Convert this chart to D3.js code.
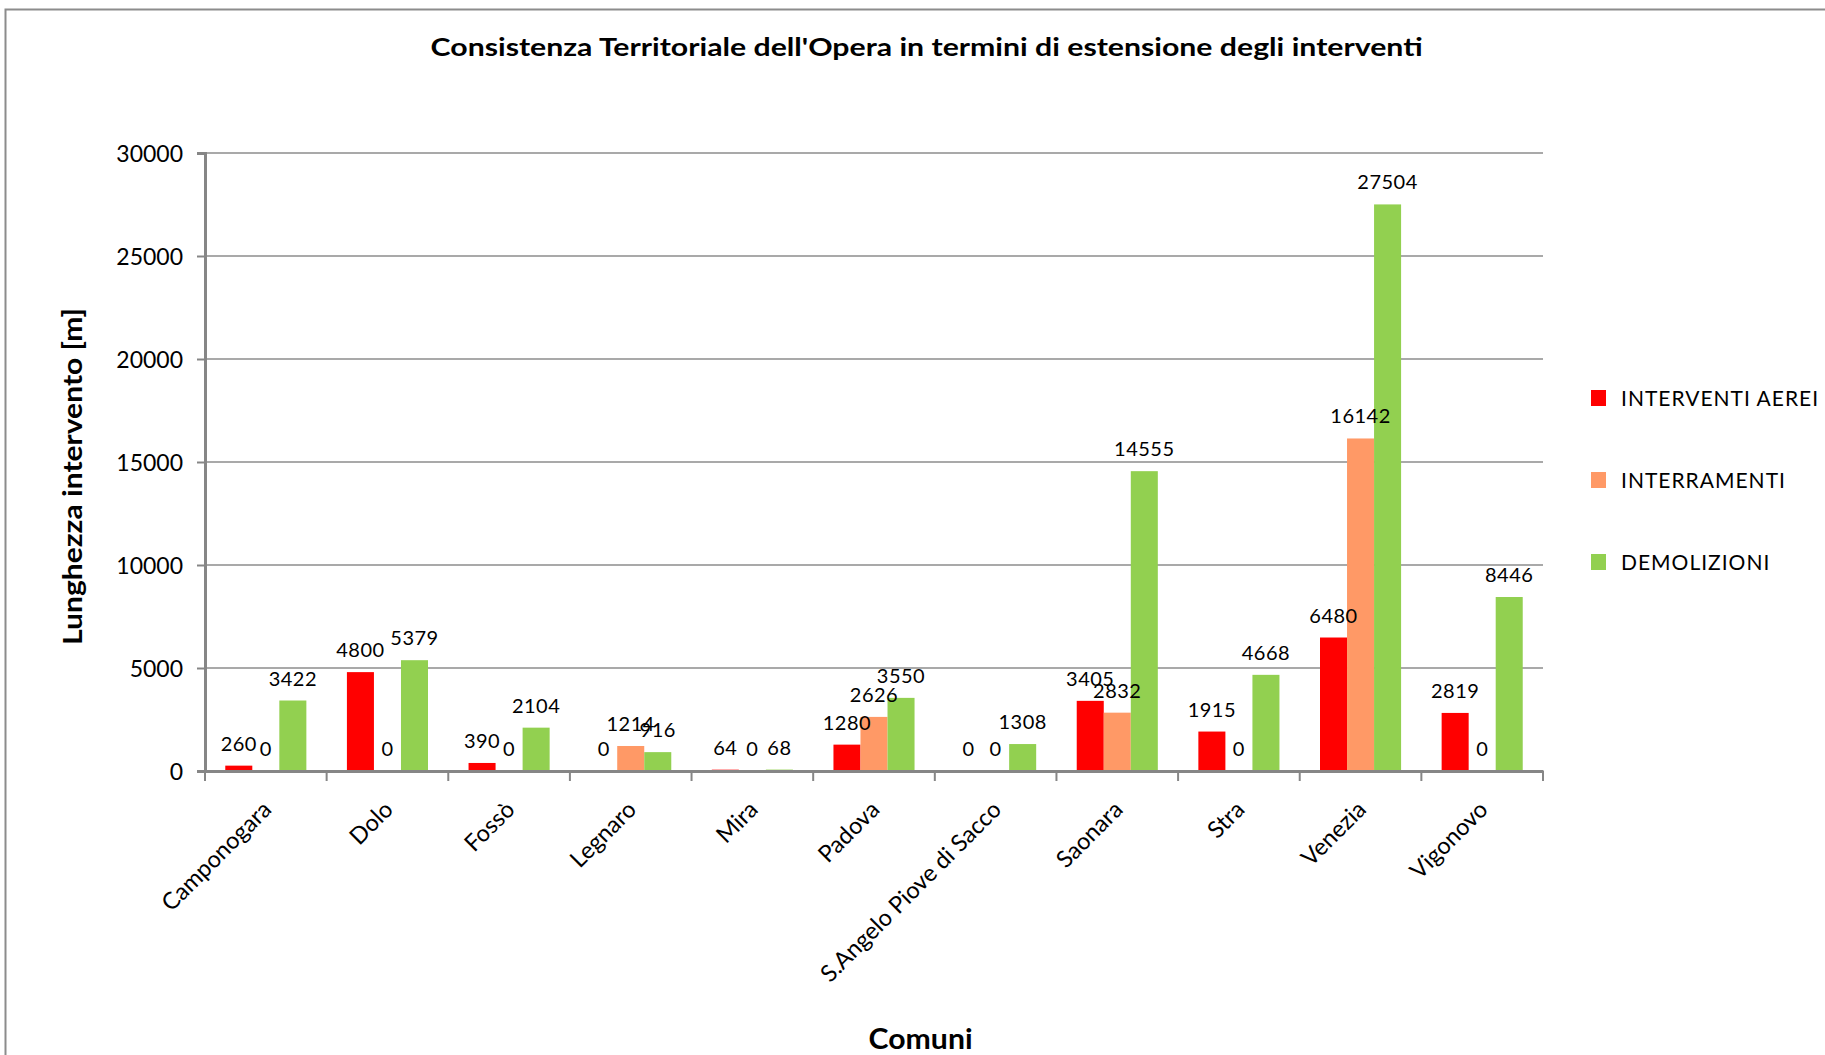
<!DOCTYPE html>
<html>
<head>
<meta charset="utf-8">
<script src="https://cdn.jsdelivr.net/npm/d3@7"></script>
<style>
  html, body { margin: 0; padding: 0; background: #fff; }
  svg { display: block; }
  text { font-family: Lato, "Liberation Sans", sans-serif; fill: #000; }
</style>
</head>
<body>
<script>
const categories = ["Camponogara","Dolo","Fossò","Legnaro","Mira","Padova","S.Angelo Piove di Sacco","Saonara","Stra","Venezia","Vigonovo"];
const seriesNames = ["INTERVENTI AEREI","INTERRAMENTI","DEMOLIZIONI"];
const interventiAerei = [260,4800,390,0,64,1280,0,3405,1915,6480,2819];
const interramenti = [0,0,0,1214,0,2626,0,2832,0,16142,0];
const demolizioni = [3422,5379,2104,916,68,3550,1308,14555,4668,27504,8446];
const yTicks = [0,5000,10000,15000,20000,25000,30000];
const colors = ["#FF0000","#FF9966","#92D050"];

const titleText = "Consistenza Territoriale dell'Opera in termini di estensione degli interventi";
const yTitle = "Lunghezza intervento [m]";
const xTitle = "Comuni";

const W = 1825, H = 1055;
const svg = d3.select("body").append("svg").attr("width", W).attr("height", H);
svg.append("rect").attr("width", W).attr("height", H).attr("fill", "#fff");

// outer chart border
svg.append("rect").attr("x", 5.5).attr("y", 9.5).attr("width", W + 20).attr("height", H + 20)
  .attr("fill", "none").attr("stroke", "#8c8c8c").attr("stroke-width", 2);

const x0 = 205, x1 = 1543, yBase = 771, yTop = 153;
const x = d3.scaleBand().domain(categories).range([x0, x1]).padding(0);
const bw = x.bandwidth();
const xs = d3.scaleBand().domain(seriesNames).range([bw / 6, bw * 5 / 6]).padding(0);
const y = d3.scaleLinear().domain([0, 30000]).range([yBase, yTop]);

// gridlines
svg.append("g").selectAll("line").data(yTicks.filter(d => d > 0)).join("line")
  .attr("x1", x0).attr("x2", x1).attr("y1", d => y(d)).attr("y2", d => y(d))
  .attr("stroke", "#8c8c8c").attr("stroke-width", 1.6);

// y axis
const yAxis = d3.axisLeft(y).tickValues(yTicks).tickSize(8).tickPadding(14).tickFormat(d3.format("d"));
const gy = svg.append("g").attr("transform", `translate(${x0},0)`).call(yAxis);
gy.select(".domain").attr("stroke", "#868686").attr("stroke-width", 3);
gy.selectAll(".tick line").attr("stroke", "#868686").attr("stroke-width", 2);
gy.selectAll(".tick text").attr("font-family", "Lato, 'Liberation Sans', sans-serif").attr("font-size", 23).attr("fill", "#000").attr("dy", "0.36em");

// bars
const series = [interventiAerei, interramenti, demolizioni];
series.forEach((vals, si) => {
  svg.append("g").selectAll("rect").data(vals).join("rect")
    .attr("x", (d, i) => x(categories[i]) + xs(seriesNames[si]))
    .attr("width", xs.bandwidth())
    .attr("y", d => y(d))
    .attr("height", d => yBase - y(d))
    .attr("fill", colors[si]);
});

// x axis
const xAxis = d3.axisBottom(x).tickSize(0).tickFormat("");
const gx = svg.append("g").attr("transform", `translate(0,${yBase})`).call(xAxis);
gx.select(".domain").attr("stroke", "#868686").attr("stroke-width", 3);
const bounds = categories.map(c => x(c)).concat([x1]);
svg.append("g").selectAll("line").data(bounds).join("line")
  .attr("x1", d => d).attr("x2", d => d).attr("y1", yBase).attr("y2", yBase + 10)
  .attr("stroke", "#868686").attr("stroke-width", 2);

// category labels
svg.append("g").selectAll("text").data(categories).join("text")
  .attr("transform", d => `translate(${x(d) + bw / 2 + 7},${yBase + 40}) rotate(-45)`)
  .attr("text-anchor", "end").attr("font-size", 23.5).text(d => d);

// data labels
series.forEach((vals, si) => {
  svg.append("g").selectAll("text").data(vals).join("text")
    .attr("x", (d, i) => x(categories[i]) + xs(seriesNames[si]) + xs.bandwidth() / 2)
    .attr("y", d => y(d) - 15)
    .attr("text-anchor", "middle").attr("font-size", 20).attr("letter-spacing", 0.5)
    .text(d => d);
});

// titles
svg.append("text").attr("x", 926.6).attr("y", 56).attr("text-anchor", "middle")
  .attr("font-size", 25.5).attr("font-weight", "bold")
  .attr("textLength", 992).attr("lengthAdjust", "spacingAndGlyphs").text(titleText);
svg.append("text").attr("transform", "translate(82,476.5) rotate(-90)").attr("text-anchor", "middle")
  .attr("font-size", 27).attr("font-weight", "bold")
  .attr("textLength", 337).attr("lengthAdjust", "spacingAndGlyphs").text(yTitle);
svg.append("text").attr("x", 920.6).attr("y", 1049).attr("text-anchor", "middle")
  .attr("font-size", 28).attr("font-weight", "bold")
  .attr("textLength", 104).attr("lengthAdjust", "spacingAndGlyphs").text(xTitle);

// legend
const legendY = [398, 480, 562];
const lg = svg.append("g").selectAll("g").data(seriesNames).join("g")
  .attr("transform", (d, i) => `translate(1591,${legendY[i]})`);
lg.append("rect").attr("x", 0).attr("y", -8).attr("width", 15).attr("height", 16)
  .attr("fill", (d, i) => colors[i]);
lg.append("text").attr("x", 30).attr("y", 8).attr("font-size", 21).attr("letter-spacing", 1.0).text(d => d);
</script>
</body>
</html>
